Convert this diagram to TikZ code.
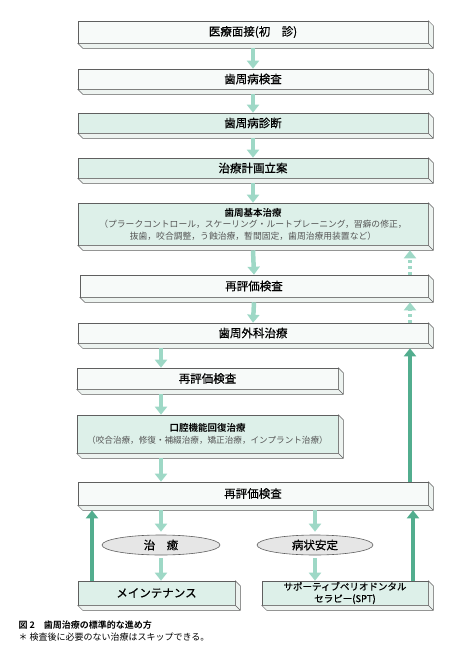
\documentclass[tikz,border=0pt]{standalone}
\usepackage{fontspec}
\setmainfont{Noto Sans CJK JP}[BoldFont={Noto Sans CJK JP Bold}]
\newfontfamily\medjp{Noto Sans CJK JP}[FakeBold=0.5]
\usetikzlibrary{arrows.meta,shapes.geometric}
\definecolor{edge}{HTML}{5F5F5F}
\definecolor{palefill}{HTML}{F7FAF9}
\definecolor{mintfill}{HTML}{DDF0E9}
\definecolor{sidefill}{HTML}{EDF3F0}
\definecolor{arrlite}{HTML}{9ED8C6}
\definecolor{arrdeep}{HTML}{52AD8E}
\definecolor{ovalfill}{HTML}{E6E6E6}
\definecolor{txtgray}{HTML}{555555}
\begin{document}
\begin{tikzpicture}[x=1pt,y=-1pt,
	box/.style={draw=edge,line width=0.6pt,rectangle,minimum width=350pt,minimum height=21pt,inner sep=0pt,font=\medjp\fontsize{11.5}{13}\selectfont},
	pale/.style={box,fill=palefill},
	mint/.style={box,fill=mintfill},
	side/.style={draw=edge,line width=0.5pt,fill=sidefill,line join=round},
	oval/.style={draw=edge,line width=0.6pt,fill=ovalfill,ellipse,minimum width=118pt,minimum height=20pt,inner sep=0pt,font=\medjp\fontsize{11.5}{13}\selectfont},
	lite/.style={draw=arrlite,line width=4.5pt,-{Triangle[width=12pt,length=8pt]}},
	deep/.style={lite,draw=arrdeep},
	dots/.style={lite,dash pattern=on 3pt off 3pt}]

	\useasboundingbox (0,0) rectangle (449,648);

	\node[pale,minimum height=22pt] (intake) at (253,32) {医療面接(初　診)};
	\node[pale,minimum height=20pt] (exam) at (253,79) {歯周病検査};
	\node[mint,minimum height=20pt] (diag) at (253,123) {歯周病診断};
	\node[mint,minimum height=20pt] (plan) at (253,168) {治療計画立案};
	\node[mint,minimum height=42pt,align=center,font=\color{txtgray}\fontsize{8.8}{11.5}\selectfont] (basic) at (253,224) {{\color{black}\bfseries\fontsize{9.5}{11.5}\selectfont 歯周基本治療}\\（プラークコントロール，スケーリング・ルートプレーニング，習癖の修正，\\抜歯，咬合調整，う蝕治療，暫間固定，歯周治療用装置など）};
	\node[pale,minimum width=348pt,minimum height=22pt] (recheckA) at (254,286) {再評価検査};
	\node[pale,minimum height=20pt] (surgery) at (253,333) {歯周外科治療};
	\node[pale,minimum width=261pt] (recheckB) at (207.5,378.5) {再評価検査};
	\node[mint,minimum width=261pt,minimum height=38pt,align=center,font=\color{txtgray}\fontsize{8.6}{11.5}\selectfont] (rehab) at (207.5,434) {{\color{black}\bfseries\fontsize{9.5}{11.5}\selectfont 口腔機能回復治療}\\（咬合治療，修復・補綴治療，矯正治療，インプラント治療）};
	\node[pale,minimum height=23pt] (recheckC) at (253,493.5) {再評価検査};
	\node[oval] (cure) at (161,545) {治　癒};
	\node[oval,minimum width=116pt] (stable) at (315,545) {病状安定};
	\node[mint,minimum width=157pt,minimum height=24pt] (maint) at (156.5,593) {メインテナンス};
	\node[mint,minimum width=166pt,minimum height=24pt,align=center,font=\medjp\fontsize{9.5}{12}\selectfont] (spt) at (345,593) {サポーティブペリオドンタル\\セラピー(SPT)};

	% bevel faces
	\foreach \n in {intake,exam,diag,plan,basic,recheckA,surgery,recheckB,rehab,recheckC,maint,spt}{
		\draw[side] (\n.north east) -- ++(5,5) -- ([shift={(5,5)}]\n.south east) -- ([shift={(5,5)}]\n.south west) -- (\n.south west) -- (\n.south east) -- cycle;
		\draw[edge,line width=0.5pt] (\n.south east) -- ++(5,5);
	}

	\coordinate (upx) at (410,0);
	\coordinate (lx) at (92,0);
	\coordinate (rx) at (413,0);

	% main flow
	\foreach \a/\b in {intake/exam,exam/diag,diag/plan,plan/basic,basic/recheckA,recheckA/surgery}
		\draw[lite] ([shift={(0,5)}]\a.south) -- (\b.north);
	\foreach \a/\b in {surgery/recheckB,recheckB/rehab,rehab/recheckC}
		\draw[lite] ([shift={(0,5)}]\a.south -| cure) -- (\b.north -| cure);

	\draw[lite,shorten >=3pt] ([shift={(0,5)}]recheckC.south -| cure) -- (cure.north);
	\draw[lite,shorten >=3pt] ([shift={(0,5)}]recheckC.south -| stable) -- (stable.north);
	\draw[lite,shorten <=3pt] (cure.south) -- (maint.north -| cure);
	\draw[lite,shorten <=3pt] (stable.south) -- (spt.north -| stable);

	% skips and returns
	\draw[dots] (recheckA.north -| upx) -- ([shift={(0,5)}]basic.south -| upx);
	\draw[dots] (surgery.north -| upx) -- ([shift={(0,5)}]recheckA.south -| upx);
	\draw[deep] (recheckC.north -| upx) -- ([shift={(0,5)}]surgery.south -| upx);
	\draw[deep] (maint.north -| lx) -- ([shift={(0,5)}]recheckC.south -| lx);
	\draw[deep] (spt.north -| rx) -- ([shift={(0,5)}]recheckC.south -| rx);

	\node[anchor=west,font=\bfseries\fontsize{9}{11}\selectfont] (cap) at (15,625) {図 2　歯周治療の標準的な進め方};
	\node[anchor=west,font=\fontsize{9}{11}\selectfont] (note) at (15,637) {＊ 検査後に必要のない治療はスキップできる。};

\end{tikzpicture}
\end{document}
